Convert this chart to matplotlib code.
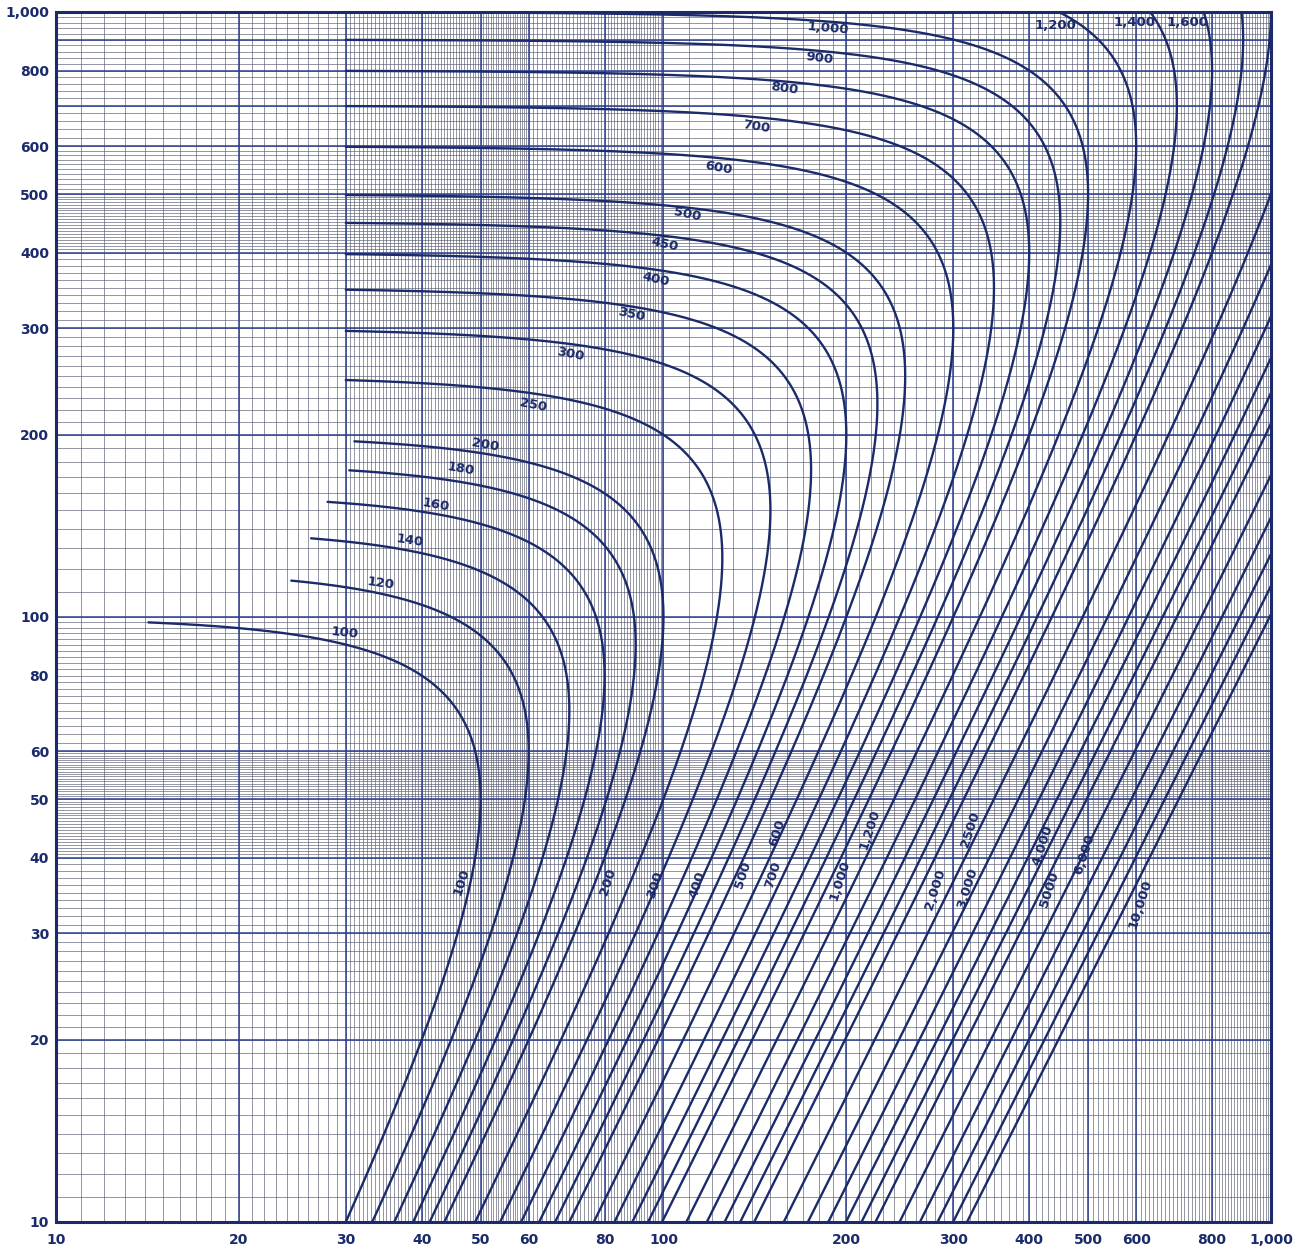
import numpy as np
import matplotlib
matplotlib.use("Agg")
import matplotlib.pyplot as plt

# ── values ───────────────────────────────────────────────────────────────────
# each curve is the circle x^2 + y^2 = L*y drawn on log-log paper
curve_L = [100, 120, 140, 160, 180, 200, 250, 300, 350, 400, 450, 500,
           600, 700, 800, 900, 1000, 1200, 1400, 1600, 1800, 2000, 2500,
           3000, 3500, 4000, 4500, 5000, 6000, 7000, 8000, 9000, 10000]
# x where the upper (left) end of each curve stops
curve_x0 = [14.2, 24.4, 26.3, 28.0, 30.4, 31.0, 30, 30, 30, 30, 30, 30,
            30, 30, 30, 30, 30, 30, 30, 30, 30, 30, 30,
            30, 30, 30, 30, 30, 30, 30, 30, 30, 30]

# labels on the flat (upper) branches
top_txt = ['100', '120', '140', '160', '180', '200', '250', '300', '350', '400',
           '450', '500', '600', '700', '800', '900', '1,000', '1,200', '1,400', '1,600']
top_x = [29.9, 34.2, 38.2, 42.2, 46.4, 50.8, 61, 70.4, 88.4, 97.2,
         100.6, 109.3, 123, 142, 158.5, 181, 186.6, 442, 597, 730]
top_y = [94.1, 113.8, 133.6, 153, 175.7, 192.4, 224, 272, 315.6, 360.6,
         412, 461.8, 552, 645, 748, 839, 941, 951, 962, 962]
top_rot = [-6, -8, -9, -10, -10, -10, -11, -11, -12, -12,
           -12, -12, -10, -9, -8, -7, -5, 0, 0, 0]

# labels on the steep (lower) branches
low_txt = ['100', '200', '300', '400', '500', '700', '600', '1,000', '1,200',
           '2,000', '3,000', '2500', '4,000', '5000', '6,000', '10,000']
low_x = [46.6, 81, 96.8, 113.6, 135.2, 151.4, 153.8, 195.2, 218.8,
         279.8, 316, 319.6, 421.5, 432.5, 494, 609]
low_y = [36.5, 36.5, 36.1, 36.1, 37.5, 37.5, 44, 36.7, 44.5,
         35.4, 35.6, 44.5, 42, 35.4, 40.5, 33.5]

tick_vals = [10, 20, 30, 40, 50, 60, 80, 100, 200, 300, 400, 500, 600, 800, 1000]
tick_txt = ['10', '20', '30', '40', '50', '60', '80', '100', '200', '300',
            '400', '500', '600', '800', '1,000']

INK = '#1b2a6b'
BLUE = '#2c3f8f'
FINE = '#55596e'


def _circle(L, x0, y_min=9.0):
    """Points of x^2 + y^2 = L*y from y_min (lower branch) up to x = x0 (upper)."""
    r = L / 2.0
    th_lo = np.arccos(1 - y_min / r)
    lower = np.geomspace(th_lo, np.pi / 2, 900)
    phi_min = np.arcsin(min(x0 / r, 1.0))
    upper = np.pi - np.geomspace(np.pi / 2, phi_min, 900)
    th = np.concatenate([lower, upper[1:]])
    return r * np.sin(th), r * (1 - np.cos(th))


fig = plt.figure(figsize=(13.1, 12.52), dpi=100)
ax = fig.add_axes([0.0427, 0.024, 0.9275, 0.9665])
ax.set_xscale('log')
ax.set_yscale('log')
ax.set_xlim(10, 1000)
ax.set_ylim(10, 1000)

# ── graph paper ──────────────────────────────────────────────────────────────
x_fine = np.concatenate([np.arange(11, 30, 1.0), np.arange(30, 60, 0.5),
                         np.arange(60, 100, 1.0), np.arange(100, 1000, 10.0)])
y_fine = np.concatenate([np.arange(11, 40, 1.0), np.arange(40, 60, 0.5),
                         np.arange(60, 100, 2.0), np.arange(100, 400, 10.0),
                         np.arange(400, 500, 5.0), np.arange(500, 600, 10.0),
                         np.arange(600, 1000, 20.0)])
ax.vlines(x_fine, 10, 1000, color=FINE, lw=0.55, alpha=0.8, zorder=1)
ax.hlines(y_fine, 10, 1000, color=FINE, lw=0.55, alpha=0.8, zorder=1)

x_major = [20, 30, 40, 50, 60, 80, 100, 200, 300, 400, 500, 600, 800]
y_major = [20, 30, 40, 50, 60, 100, 200, 300, 400, 500, 600, 700, 800, 900]
ax.vlines(x_major, 10, 1000, color=BLUE, lw=1.1, zorder=2)
ax.hlines(y_major, 10, 1000, color=BLUE, lw=1.1, zorder=2)

# ── curves ───────────────────────────────────────────────────────────────────
for L, x0 in zip(curve_L, curve_x0):
    cx, cy = _circle(L, x0)
    ax.plot(cx, cy, color=INK, lw=1.7, solid_capstyle='round', zorder=3)

for t, x, y, r in zip(top_txt, top_x, top_y, top_rot):
    ax.text(x, y, t, rotation=r, ha='center', va='center', fontsize=9.5,
            fontweight='bold', color=INK, zorder=4)

for t, x, y in zip(low_txt, low_x, low_y):
    ax.text(x, y, t, rotation=72, ha='center', va='center', fontsize=9.5,
            fontweight='bold', color=INK, zorder=4)

# ── axes ─────────────────────────────────────────────────────────────────────
ax.set_xticks(tick_vals)
ax.set_xticklabels(tick_txt)
ax.set_yticks(tick_vals)
ax.set_yticklabels(tick_txt)
ax.minorticks_off()
ax.tick_params(length=0, labelsize=10, labelcolor=INK)
ax.tick_params(axis='y', pad=5)
ax.tick_params(axis='x', pad=8)
for lab in ax.get_xticklabels() + ax.get_yticklabels():
    lab.set_fontweight('bold')
for s in ax.spines.values():
    s.set_color(INK)
    s.set_linewidth(2.2)

fig.savefig('out.png', dpi=100)
